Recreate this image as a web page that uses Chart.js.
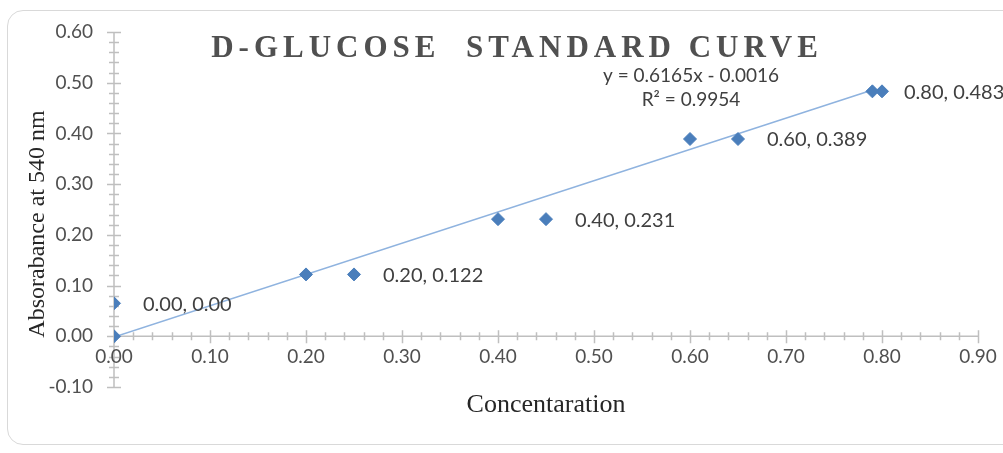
<!DOCTYPE html>
<html>
<head>
<meta charset="utf-8">
<script src="https://cdn.jsdelivr.net/npm/chart.js@4/dist/chart.umd.min.js"></script>
<style>
  body { margin: 0; background: #fff; overflow: hidden; }
  #wrap { position: relative; width: 1003px; height: 453px; }
  #frame {
    position: absolute; left: 7px; top: 10px; width: 1020px; height: 435px;
    border: 1.5px solid #d9d9d9; border-radius: 16px; box-sizing: border-box;
  }
  canvas { position: absolute; left: 0; top: 0; }
</style>
</head>
<body>
<div id="wrap">
  <div id="frame"></div>
  <canvas id="chart" width="1003" height="453"></canvas>
</div>
<script>
// ─── Data ───
const concentration = [0.00, 0.20, 0.40, 0.60, 0.79];
const absorbance    = [0.000, 0.122, 0.231, 0.389, 0.483];

// markers Excel left next to the (displaced) data labels
const labelMarkerX = [0.00, 0.25, 0.45, 0.65, 0.80];
const labelMarkerY = [0.065, 0.122, 0.231, 0.389, 0.483];
const pointLabels  = ['0.00, 0.00', '0.20, 0.122', '0.40, 0.231', '0.60, 0.389', '0.80, 0.483'];

// linear trendline shown on the chart
const slope = 0.6165, intercept = -0.0016, rSquared = 0.9954;
const trendRange = [0.00, 0.79];

const xTicks = [0.00, 0.10, 0.20, 0.30, 0.40, 0.50, 0.60, 0.70, 0.80, 0.90];
const yTicks = [-0.10, 0.00, 0.10, 0.20, 0.30, 0.40, 0.50, 0.60];
const xMin = 0, xMax = 0.9;
const yMin = -0.1, yMax = 0.6;

const TITLE = 'D-GLUCOSE  STANDARD CURVE';
const X_TITLE = 'Concentaration';
const Y_TITLE = 'Absorabance at 540 nm';

const MARKER = '#4a7ebb';
const TREND = '#8fb3df';
const AXIS = '#bfbfbf';
const TEXT = '#505050';
const SANS = 'Lato, "Noto Sans", sans-serif';
const SERIF = '"Liberation Serif", "DejaVu Serif", serif';

const fmt = v => (Math.abs(v) < 1e-9 ? 0 : v).toFixed(2);

// ─── Custom drawing: axes with cross ticks, tick labels, titles ───
const decorations = {
  id: 'decorations',
  beforeDatasetsDraw(chart) {
    const { ctx, scales: { x, y } } = chart;
    const x0 = x.getPixelForValue(0);
    const y0 = y.getPixelForValue(0);
    ctx.save();
    ctx.strokeStyle = AXIS;
    ctx.lineWidth = 1.5;
    ctx.beginPath();
    ctx.moveTo(x0, y.getPixelForValue(yMax));
    ctx.lineTo(x0, y.getPixelForValue(yMin));
    ctx.moveTo(x.getPixelForValue(xMin), y0);
    ctx.lineTo(x.getPixelForValue(xMax), y0);
    // y ticks, minor every 0.02
    for (let i = 0; i <= Math.round((yMax - yMin) / 0.02); i++) {
      const py = Math.round(y.getPixelForValue(yMin + i * 0.02)) + 0.5;
      const h = i % 5 === 0 ? 7 : 5;
      ctx.moveTo(x0 - h, py);
      ctx.lineTo(x0 + h, py);
    }
    // x ticks
    for (let i = 0; i <= Math.round((xMax - xMin) / 0.02); i++) {
      const px = Math.round(x.getPixelForValue(xMin + i * 0.02)) + 0.5;
      const major = i % 5 === 0;
      ctx.moveTo(px, y0 - (major ? 6 : 4));
      ctx.lineTo(px, y0 + (major ? 7 : 4));
    }
    ctx.stroke();

    // tick labels
    ctx.fillStyle = TEXT;
    ctx.font = '19px ' + SANS;
    ctx.textBaseline = 'middle';
    ctx.textAlign = 'right';
    yTicks.forEach(v => ctx.fillText(fmt(v), x0 - 21, y.getPixelForValue(v)));
    ctx.textAlign = 'center';
    xTicks.forEach(v => ctx.fillText(fmt(v), x.getPixelForValue(v), y0 + 21));
    ctx.restore();
  },
  afterDraw(chart) {
    const { ctx, scales: { x, y } } = chart;
    ctx.save();
    // title
    ctx.fillStyle = TEXT;
    ctx.font = 'bold 31px ' + SERIF;
    ctx.letterSpacing = '5px';
    ctx.textAlign = 'center';
    ctx.textBaseline = 'alphabetic';
    ctx.fillText(TITLE, 517, 57);
    ctx.letterSpacing = '0px';

    // axis titles
    ctx.fillStyle = '#262626';
    ctx.font = '26px ' + SERIF;
    ctx.textBaseline = 'middle';
    ctx.fillText(X_TITLE, 546, 405);
    ctx.save();
    ctx.translate(38, 224);
    ctx.rotate(-Math.PI / 2);
    ctx.font = '24px ' + SERIF;
    ctx.fillText(Y_TITLE, 0, 0);
    ctx.restore();

    // trendline equation
    ctx.fillStyle = '#404040';
    ctx.font = '19px ' + SANS;
    ctx.fillText(`y = ${slope}x - ${Math.abs(intercept).toFixed(4)}`, 691, 76);
    ctx.fillText(`R² = ${rSquared}`, 691, 100);

    // data labels next to the label markers
    ctx.textAlign = 'left';
    ctx.font = '20px ' + SANS;
    pointLabels.forEach((txt, i) => {
      const px = x.getPixelForValue(labelMarkerX[i]);
      const py = y.getPixelForValue(labelMarkerY[i]);
      ctx.fillText(txt, px + (i === pointLabels.length - 1 ? 22 : 29), py + 1);
    });
    ctx.restore();
  }
};

new Chart(document.getElementById('chart'), {
  data: {
    datasets: [
      {
        type: 'scatter',
        label: 'Absorbance',
        data: concentration.map((c, i) => ({ x: c, y: absorbance[i] })),
        pointStyle: 'rectRot',
        pointRadius: 6.5,
        backgroundColor: MARKER,
        borderColor: MARKER,
        order: 1
      },
      {
        type: 'scatter',
        label: 'Labels',
        data: labelMarkerX.map((c, i) => ({ x: c, y: labelMarkerY[i] })),
        pointStyle: 'rectRot',
        pointRadius: 6.5,
        backgroundColor: MARKER,
        borderColor: MARKER,
        order: 1
      },
      {
        type: 'line',
        label: 'Linear',
        data: trendRange.map(c => ({ x: c, y: slope * c + intercept })),
        borderColor: TREND,
        borderWidth: 1.6,
        pointRadius: 0,
        fill: false,
        order: 2
      }
    ]
  },
  options: {
    responsive: false,
    animation: false,
    layout: { padding: { left: 114, right: 25, top: 32, bottom: 66 } },
    plugins: { legend: { display: false }, tooltip: { enabled: false }, title: { display: false } },
    scales: {
      x: {
        type: 'linear',
        position: { y: 0 },
        min: xMin, max: xMax,
        grid: { display: false, drawTicks: false },
        border: { display: false },
        ticks: { display: false }
      },
      y: {
        type: 'linear',
        position: { x: 0 },
        min: yMin, max: yMax,
        grid: { display: false, drawTicks: false },
        border: { display: false },
        ticks: { display: false }
      }
    }
  },
  plugins: [decorations]
});
</script>
</body>
</html>
